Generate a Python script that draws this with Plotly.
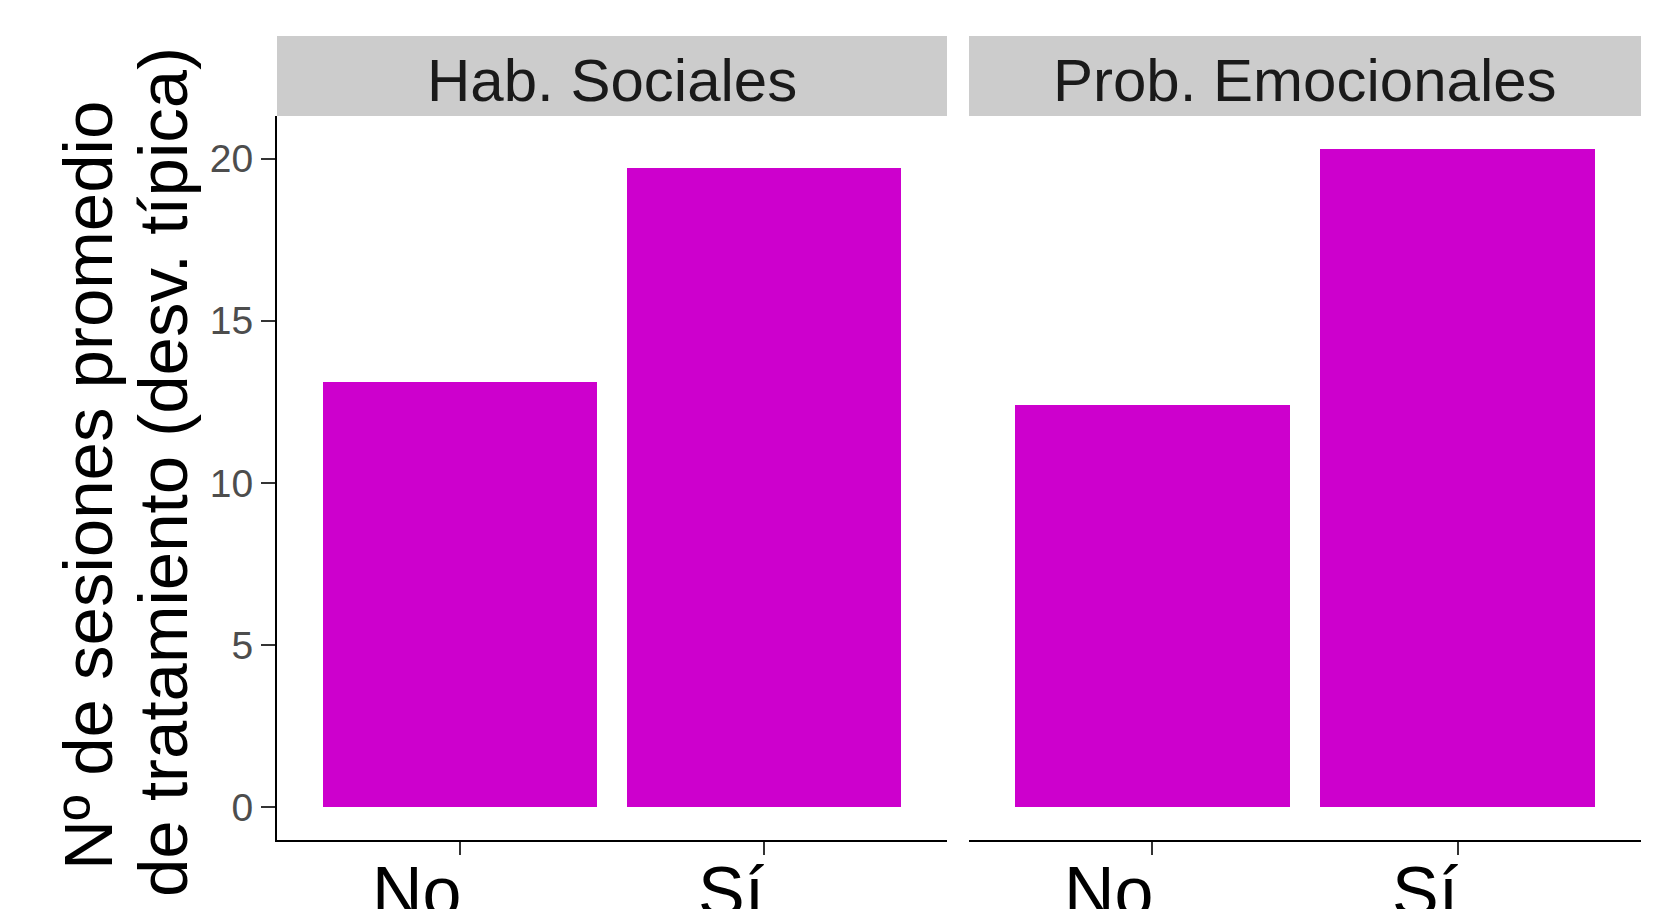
import plotly.graph_objects as go

# ---- data ----
panels = ["Hab. Sociales", "Prob. Emocionales"]
categories = ["No", "Sí"]
hab_values = [13.1, 19.7]
prob_values = [12.4, 20.3]
y_ticks = [0, 5, 10, 15, 20]
y_title_lines = ["Nº de sesiones promedio", "de tratamiento (desv. típica)"]

# ---- layout geometry (page offset of 8px from body margin compensated) ----
OFF = 8
W, H = 1666 - OFF, 909 - OFF
ml, mr, mt, mb = 277 - OFF, 25, 116 - OFF, 69
pw = W - ml - mr
ph = H - mt - mb
d1 = [0, 670 / pw]
d2 = [692 / pw, 1]
bar_color = "#CD00CD"
font_family = "Liberation Sans, Arial, sans-serif"


def py(page_y):
    """page y (px from top of window) -> paper y"""
    return (840 - page_y) / ph


fig = go.Figure()
fig.add_trace(go.Bar(x=categories, y=hab_values, xaxis="x", yaxis="y",
                     marker=dict(color=bar_color, line=dict(width=0)), width=0.9,
                     showlegend=False))
fig.add_trace(go.Bar(x=categories, y=prob_values, xaxis="x2", yaxis="y2",
                     marker=dict(color=bar_color, line=dict(width=0)), width=0.9,
                     showlegend=False))

vmax = max(prob_values + hab_values)
yrange = [-0.05 * vmax, 1.05 * vmax]

xaxis_common = dict(type="category", range=[-0.6, 1.6], showline=True, linecolor="black",
                    linewidth=2, ticks="outside", ticklen=13, tickwidth=1.5,
                    tickcolor="#333333", showticklabels=False, showgrid=False,
                    zeroline=False, fixedrange=True)

fig.update_layout(
    width=W, height=H,
    margin=dict(l=ml, r=mr, t=mt, b=mb, pad=0),
    paper_bgcolor="white", plot_bgcolor="white",
    font=dict(family=font_family, color="black"),
    bargap=0,
    xaxis=dict(domain=d1, anchor="y", **xaxis_common),
    xaxis2=dict(domain=d2, anchor="y2", **xaxis_common),
    yaxis=dict(domain=[0, 1], anchor="x", range=yrange, tickvals=y_ticks,
               ticktext=[str(v) for v in y_ticks], showline=True, linecolor="black",
               linewidth=2, ticks="outside", ticklen=14, tickwidth=1.5,
               tickcolor="#333333", ticklabelstandoff=0,
               tickfont=dict(size=39, color="#4D4D4D", family=font_family),
               showgrid=False, zeroline=False),
    yaxis2=dict(domain=[0, 1], anchor="x2", matches="y", range=yrange,
                showline=False, ticks="", showticklabels=False, showgrid=False,
                zeroline=False),
)

shapes = []
annotations = []
strip_h = 80 / ph
for dom, name in zip([d1, d2], panels):
    shapes.append(dict(type="rect", xref="paper", yref="paper", x0=dom[0], x1=dom[1],
                       y0=1, y1=1 + strip_h, fillcolor="#CCCCCC", line=dict(width=0),
                       layer="above"))
    annotations.append(dict(text=name, xref="paper", yref="paper",
                            x=(dom[0] + dom[1]) / 2, y=py(80),
                            xanchor="center", yanchor="middle", showarrow=False,
                            font=dict(size=60, color="#1A1A1A", family=font_family)))

# x tick labels, right-aligned to their ticks
for xa in ["x", "x2"]:
    for c in categories:
        annotations.append(dict(text=c, xref=xa, yref="paper", x=c, y=0, yshift=-11,
                                xshift=3, xanchor="right", yanchor="top",
                                showarrow=False,
                                font=dict(size=70, color="black", family=font_family)))

# y title in two lines
for line, xs, yc in zip(y_title_lines, [88 - 277, 163 - 277], [486, 472]):
    annotations.append(dict(text=line, xref="paper", yref="paper", x=0, xshift=xs,
                            y=py(yc), xanchor="center", yanchor="middle",
                            textangle=-90, showarrow=False,
                            font=dict(size=69, color="black", family=font_family)))

fig.update_layout(shapes=shapes, annotations=annotations)
fig.write_html("out.html")
